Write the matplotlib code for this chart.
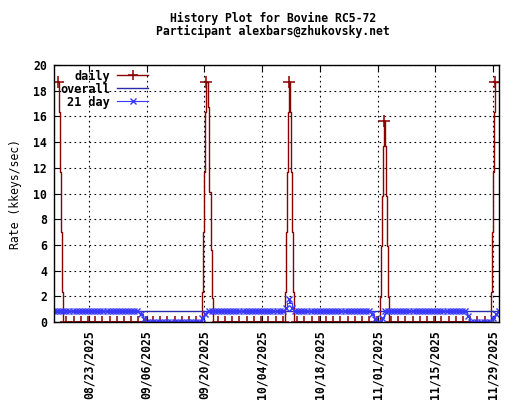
import matplotlib
matplotlib.use('Agg')
import matplotlib.pyplot as plt
import matplotlib.dates as mdates
import numpy as np
import pandas as pd

title = 'History Plot for Bovine RC5-72\nParticipant alexbars@zhukovsky.net'

# daily rate, sampled every 6 hours, zero outside the bursts listed here
daily_start = '2025-08-15 12:00'
daily_end = '2025-11-30 12:00'
daily_bursts = {
    '2025-08-15 12:00': [18.67, 16.33, 11.67, 7.0, 2.33],
    '2025-09-19 12:00': [2.33, 7.0, 11.67, 16.33, 18.67, 16.75, 10.1, 10.1, 5.6, 1.84],
    '2025-10-09 12:00': [2.33, 7.0, 11.67, 16.33, 18.67, 16.33, 11.67, 7.0, 2.33],
    '2025-11-01 12:00': [1.95, 5.94, 9.83, 13.7, 15.67, 13.7, 9.83, 5.94, 1.95],
    '2025-11-28 12:00': [2.33, 7.0, 11.67, 16.33, 18.67, 18.67, 18.67, 18.67, 18.67],
}

# 21 day average: value holds from each date until the next one
avg21_start = '2025-08-14 12:00'
avg21_end = '2025-11-30 12:00'
avg21_changes = [
    ('2025-08-14 12:00', 0.88),
    ('2025-09-04 12:00', 0.6),
    ('2025-09-05 00:00', 0.25),
    ('2025-09-05 12:00', 0.0),
    ('2025-09-19 12:00', 0.3),
    ('2025-09-20 00:00', 0.65),
    ('2025-09-20 12:00', 0.88),
    ('2025-10-09 12:00', 1.1),
    ('2025-10-10 00:00', 1.5),
    ('2025-10-10 12:00', 1.8),
    ('2025-10-10 18:00', 1.5),
    ('2025-10-11 06:00', 1.1),
    ('2025-10-11 12:00', 0.88),
    ('2025-10-30 18:00', 0.6),
    ('2025-10-31 06:00', 0.25),
    ('2025-10-31 18:00', 0.0),
    ('2025-11-02 00:00', 0.3),
    ('2025-11-02 12:00', 0.6),
    ('2025-11-02 18:00', 0.84),
    ('2025-11-22 18:00', 0.5),
    ('2025-11-23 06:00', 0.2),
    ('2025-11-23 12:00', 0.0),
    ('2025-11-29 00:00', 0.3),
    ('2025-11-29 12:00', 0.65),
    ('2025-11-30 00:00', 0.84),
]

overall_dates = ['2025-08-14 12:00', '2025-11-30 12:00']
overall_values = [0.88, 0.88]

tick_dates = ['2025-08-23', '2025-09-06', '2025-09-20', '2025-10-04',
              '2025-10-18', '2025-11-01', '2025-11-15', '2025-11-29']
x_range = ['2025-08-14 12:15', '2025-11-30 11:15']

# build the series
daily = pd.Series(0.0, index=pd.date_range(daily_start, daily_end, freq='6h'))
for start, vals in daily_bursts.items():
    idx = pd.date_range(start, periods=len(vals), freq='6h')
    daily.loc[idx] = vals

ch = pd.Series([v for d, v in avg21_changes], index=pd.to_datetime([d for d, v in avg21_changes]))
avg21 = ch.reindex(pd.date_range(avg21_start, avg21_end, freq='6h'), method='ffill')

# + marks: every 7th zero sample and the top of each burst
pos = np.arange(len(daily))
dv = daily.values
tops = [daily.index.get_loc(pd.Timestamp(s) + pd.Timedelta(hours=6) * int(np.argmax(v)))
        for s, v in daily_bursts.items()]
marks = ((pos % 7 == 1) & (dv == 0)) | np.isin(pos, tops)
mark_idx = [int(i) for i in np.where(marks)[0]]

plt.rcParams['font.family'] = 'DejaVu Sans Mono'
plt.rcParams['font.weight'] = 'bold'
plt.rcParams['font.size'] = 8.3

fig = plt.figure(figsize=(5.2, 4.0), dpi=100)
ax = fig.add_axes([54 / 520, 1 - 322 / 400, 445 / 520, 257 / 400])

red = '#8b0000'
navy = '#2b2ba8'
blue = '#3838ff'

ax.plot(daily.index, dv, color=red, lw=1.0, drawstyle='steps-post',
        marker='+', ms=9, mew=1.1, markevery=mark_idx, label='daily', zorder=3)
ax.plot(pd.to_datetime(overall_dates), overall_values, color=navy, lw=1.0, label='overall', zorder=4)
ax.plot(avg21.index, avg21.values, color=blue, lw=0.8, drawstyle='steps-post',
        marker='x', ms=5, mew=1.0, markevery=3, label='21 day', zorder=5)

ax.set_xlim(pd.to_datetime(x_range))
ax.set_ylim(0, 20)
ax.set_yticks(np.arange(0, 21, 2))
ax.set_xticks(pd.to_datetime(tick_dates))
ax.xaxis.set_major_formatter(mdates.DateFormatter('%m/%d/%Y'))
ax.tick_params(axis='x', rotation=90, pad=6)
ax.tick_params(direction='in', length=4, width=0.8, top=True, right=True, colors='black')
ax.tick_params(axis='y', pad=5)
for lab in ax.get_xticklabels():
    lab.set_va('top')
    lab.set_ha('center')
ax.grid(True, color='black', lw=0.8, linestyle=(0, (1.5, 3)))
for s in ax.spines.values():
    s.set_linewidth(1.0)
    s.set_zorder(6)

ax.set_ylabel('Rate (kkeys/sec)', labelpad=8)
fig.text(273 / 520, 1 - 25 / 400, title, ha='center', va='center', ma='center', linespacing=1.0)

leg = ax.legend(loc='upper left', bbox_to_anchor=(-0.005, 1.015), frameon=False, markerfirst=False,
                handlelength=2.6, labelspacing=0.0, handletextpad=0.6, borderaxespad=0.3,
                fontsize=8.6)
leg.legend_handles[0].set_markersize(7)

fig.savefig('out.png', dpi=100)
